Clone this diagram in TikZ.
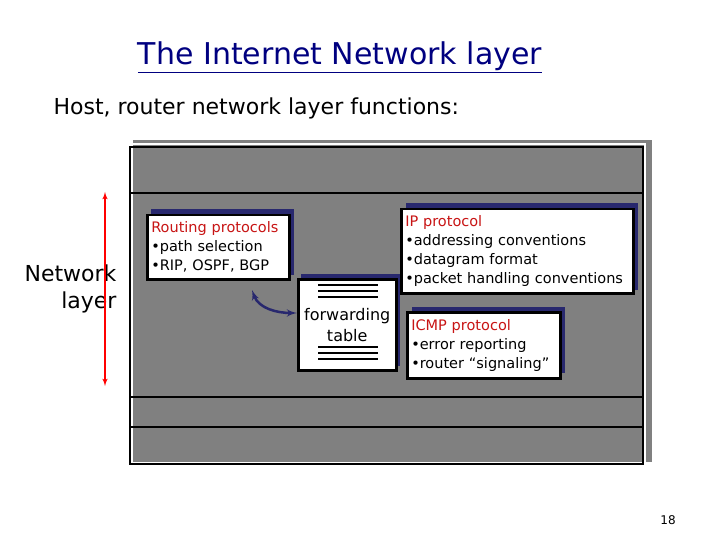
\documentclass[tikz,border=0pt]{standalone}
\usepackage{fontspec}
\setmainfont{DejaVu Sans}
\usetikzlibrary{arrows}
\definecolor{titleblue}{RGB}{0,0,128}
\definecolor{navy}{RGB}{40,40,110}
\definecolor{panel}{RGB}{128,128,128}
\definecolor{redtxt}{RGB}{200,20,20}
\tikzstyle{box} = [draw, line width=2.5pt, fill=white, anchor=north west, inner xsep=4pt, inner ysep=2pt, align=left, font=\fontsize{14.5}{19}\selectfont]
\tikzstyle{shadow} = [fill=navy]
\tikzstyle{rule} = [line width=1.5pt]

\begin{document}
\begin{tikzpicture}[x=1pt,y=-1pt,>=latex']
\useasboundingbox (0,0) rectangle (720,540);
\node [font=\fontsize{30}{34}\selectfont, text=titleblue] (title) at (340,57) {\underline{The Internet Network layer}};
\node [anchor=west, font=\fontsize{22}{26}\selectfont] (sub) at (50,108) {Host, router network layer functions:};

% panel
\fill [panel] (133,140) rectangle (652,462);
\draw [rule, draw=white] (127,144) rectangle (645,466);
\draw [rule] (130,147) rectangle (643,464);
\draw [rule] (130,193) -- (643,193);
\draw [rule] (130,397) -- (643,397);
\draw [rule] (130,427) -- (643,427);

% boxes
\fill [shadow] (151,209) rectangle (294,275);
\node [box, text width=134pt, minimum height=64pt] (route) at (146,214) {\textcolor{redtxt}{Routing protocols}\\•path selection\\•RIP, OSPF, BGP};
\fill [shadow] (406,203) rectangle (638,290);
\node [box, text width=224pt, minimum height=84pt] (ip) at (400,208) {\textcolor{redtxt}{IP protocol}\\•addressing conventions\\•datagram format\\•packet handling conventions};
\fill [shadow] (412,307) rectangle (565,373);
\node [box, text width=145pt, minimum height=66pt] (icmp) at (406,311) {\textcolor{redtxt}{ICMP protocol}\\•error reporting\\•router “signaling”};
\fill [shadow] (301,274) rectangle (400,366);
\node [box, minimum width=98pt, minimum height=91pt, inner sep=0pt] (fwd) at (297,278) {};
\node [font=\fontsize{16}{21}\selectfont, align=center] (fwdtxt) at (fwd.center) {forwarding\\table};
\foreach \y in {285,291,297,347,353,359}
  \draw [line width=2pt] (318,\y) -- (378,\y);

\draw [<->, navy, line width=2.5pt] (252,290) to [out=-70, in=180] (fwd.west |- 0,313);

% network layer
\node [align=right, anchor=east, font=\fontsize{22}{27}\selectfont] (nl) at (120,289) {Network\\layer};
\coordinate (nltop) at (105,192);
\coordinate (nlbot) at (105,386);
\draw [<->, red, line width=1.5pt] (nltop) -- (nlbot);

\node [font=\fontsize{12}{14}\selectfont] (page) at (668,520) {18};
\end{tikzpicture}
\end{document}
